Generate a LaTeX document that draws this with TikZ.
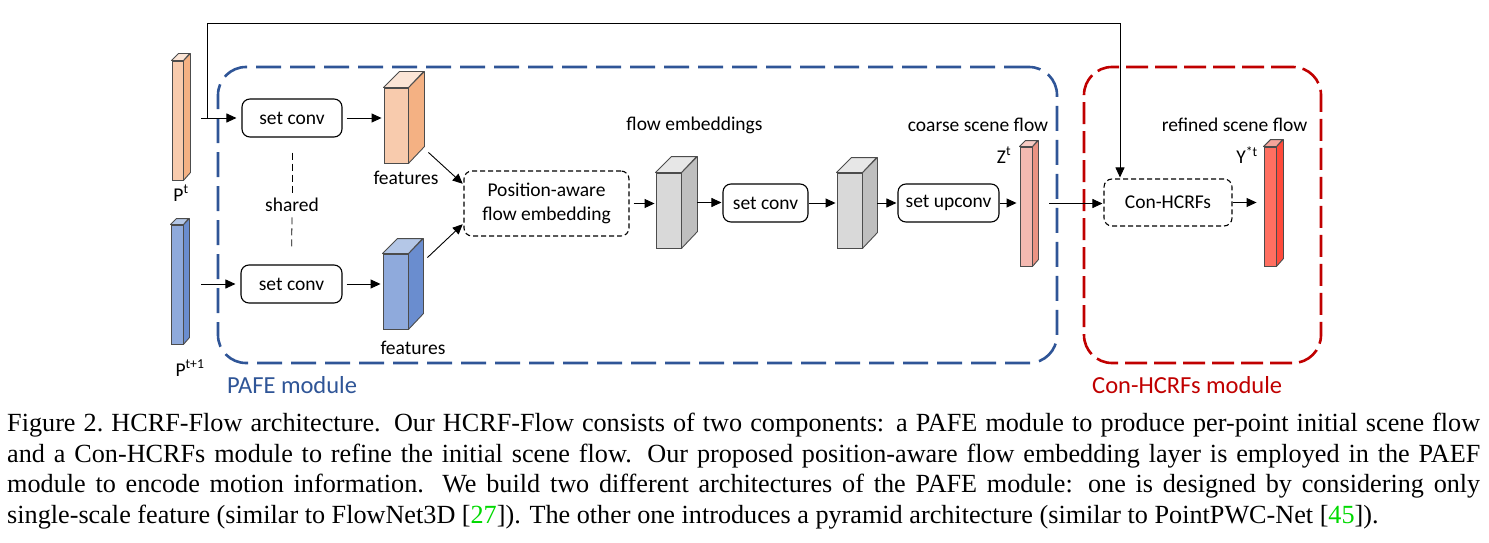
\documentclass[tikz,border=0pt]{standalone}
\usepackage{fontspec}
\setmainfont{Liberation Serif}
\newfontfamily\diafont{Carlito}
\usetikzlibrary{arrows.meta,positioning}

\definecolor{orangefront}{HTML}{F8CBAD}
\definecolor{orangeside}{HTML}{F4B183}
\definecolor{orangetop}{HTML}{FBE5D6}
\definecolor{bluefront}{HTML}{8FAADC}
\definecolor{blueside}{HTML}{6A8DCF}
\definecolor{bluetop}{HTML}{B4C7E7}
\definecolor{grayfront}{HTML}{D9D9D9}
\definecolor{grayside}{HTML}{BFBFBF}
\definecolor{graytop}{HTML}{E7E7E7}
\definecolor{salmonfront}{HTML}{F4B9B1}
\definecolor{salmonside}{HTML}{EB9383}
\definecolor{salmontop}{HTML}{F7CBC4}
\definecolor{redfront}{HTML}{FF6F61}
\definecolor{redside}{HTML}{FF4A3A}
\definecolor{redtop}{HTML}{F5A49A}
\definecolor{pafeblue}{HTML}{2F5597}
\definecolor{crfred}{HTML}{C00000}
\definecolor{citegreen}{rgb}{0,0.85,0}

\tikzset{
	arrow/.style={-{Triangle[length=10pt,width=9pt]}, line width=0.9pt, shorten >=1pt},
	opbox/.style={draw, line width=1.1pt, rounded corners=8pt, minimum height=38pt, inner sep=0pt},
	dashbox/.style={opbox, dash pattern=on 5pt off 3pt},
	modframe/.style={line width=2.6pt, rounded corners=28pt, minimum height=296pt, inner sep=0pt},
	cubeface/.style={draw=black!70, line width=0.9pt, inner sep=0pt},
	cubeline/.style={draw=black!70, line width=0.9pt, line join=round},
	modtext/.style={anchor=base west, font=\diafont\fontsize{24.5}{29}\selectfont}
}

% #1 name, #2 centre, #3 width, #4 height, #5 depth, #6 colour set
\newcommand{\cuboid}[6]{%
	\node[cubeface, fill=#6front, minimum width=#3pt, minimum height=#4pt] (#1) at (#2) {};
	\draw[cubeline, fill=#6side] (#1.north east) -- ++(#5,-#5) -- ++(0,#4) -- (#1.south east) -- cycle;
	\draw[cubeline, fill=#6top] (#1.north west) -- ++(#5,-#5) -- ++(#3,0) -- (#1.north east) -- cycle;
	\coordinate (#1-r) at ([shift={(#5pt,#5pt/2)}]#1.east);
}

\begin{document}
\begin{tikzpicture}[x=1pt, y=-1pt, font=\diafont\fontsize{19.5}{23.5}\selectfont]
	\useasboundingbox (0,0) rectangle (1489,543);

	% module frames
	\node[modframe, draw=pafeblue, dash pattern=on 25pt off 9pt, minimum width=839pt] (pafemod) at (637.5,215) {};
	\node[modframe, draw=crfred, dash pattern=on 22pt off 7pt, minimum width=237pt] (crfmod) at (1202.5,215) {};
	\node[modtext, text=pafeblue] (pafelbl) at ([xshift=7pt,yshift=-29pt]pafemod.south west) {PAFE module};
	\node[modtext, text=crfred] (crflbl) at ([xshift=6pt,yshift=-29pt]crfmod.south west) {Con-HCRFs module};

	% point clouds and feature maps
	\cuboid{pt}{177.5,120.5}{11}{119}{7}{orange}
	\cuboid{ptn}{177,284.5}{12}{119}{6}{blue}
	\cuboid{fa}{396,125.5}{24}{75}{16}{orange}
	\cuboid{fb}{395.5,291.5}{25}{75}{15}{blue}
	\cuboid{ga}{668.5,210.5}{25}{75}{16}{gray}
	\cuboid{gb}{849.5,210.5}{25}{75}{15}{gray}
	\cuboid{zt}{1026,206.5}{12}{119}{6}{salmon}
	\cuboid{yt}{1270,206.5}{12}{119}{7}{red}

	% layers
	\node[opbox, minimum width=100pt] (sca) at (292,118) {set conv};
	\node[opbox, minimum width=101pt] (scb) at (291.5,284) {set conv};
	\node[opbox, minimum width=85pt] (scm) at (765.5,203) {set conv};
	\node[opbox, minimum width=101pt] (up) at (948.5,203) {set upconv};
	\node[dashbox, minimum width=165pt, minimum height=65pt, align=center] (pafe) at (546.5,203.5) {Position-aware\\flow embedding};
	\node[dashbox, minimum width=128pt, minimum height=47pt] (crf) at (1168,202.5) {Con-HCRFs};

	% labels
	\node (ptlbl) at (181,193) {P\textsuperscript{t}};
	\node (ptnlbl) at (190,368) {P\textsuperscript{t+1}};
	\node (falbl) at (406,178) {features};
	\node (fblbl) at (413,348) {features};
	\node (shared) at (292,205) {shared};
	\node (galbl) at (694.5,125) {flow embeddings};
	\node (ztlbl) at (978,125) {coarse scene flow};
	\node (ytlbl) at (1234.5,125) {refined scene flow};
	\node (zsym) at (1004,155) {Z\textsuperscript{t}};
	\node (ysym) at (1247,155) {Y\textsuperscript{*t}};

	% connectors
	\draw[arrow, shorten >=5pt] ([xshift=11pt]pt-r |- sca.west) -- (sca.west);
	\draw[arrow, shorten >=5pt] ([xshift=12pt]ptn-r |- scb.west) -- (scb.west);
	\draw[arrow] ([xshift=17pt]pt-r |- sca.west) -- ++(0,-95) -| ([xshift=-48pt]crf.north);
	\draw[arrow, shorten <=4pt, shorten >=2pt] (sca.east) -- (sca.east -| fa.west);
	\draw[arrow, shorten <=4pt, shorten >=2pt] (scb.east) -- (scb.east -| fb.west);
	\draw[dash pattern=on 7pt off 4pt, line width=0.8pt, shorten <=15pt, shorten >=2pt] (sca.south) -- (shared.north);
	\draw[dash pattern=on 7pt off 4pt, line width=0.8pt, shorten <=2pt, shorten >=18pt] (shared.south) -- (scb.north);
	\draw[arrow] ([xshift=20pt,yshift=11pt]fa.south east) -- ([yshift=-14pt]pafe.north west);
	\draw[arrow] ([xshift=19pt,yshift=-4pt]fb.north east) -- ([yshift=13pt]pafe.south west);
	\draw[arrow, shorten <=4pt] (pafe.east) -- (pafe.east -| ga.west);
	\draw[arrow] (ga-r) -- (ga-r -| scm.west);
	\draw[arrow] (scm.east) -- (scm.east -| gb.west);
	\draw[arrow] (gb-r) -- (gb-r -| up.west);
	\draw[arrow, shorten >=3pt] (up.east) -- (up.east -| zt.west);
	\draw[arrow] ([xshift=11pt]zt-r) -- (zt-r -| crf.west);
	\draw[arrow, shorten >=7pt] (crf.east) -- (crf.east -| yt.west);

	% caption
	\node[anchor=north west, inner sep=0pt, align=left, font=\rmfamily\fontsize{26.2}{30.5}\selectfont] (caption) at (7,413) {%
		\makebox[1473pt][s]{Figure 2.\ HCRF-Flow architecture. Our HCRF-Flow consists of two components: a PAFE module to produce per-point initial scene flow}\\
		\makebox[1473pt][s]{and a Con-HCRFs module to refine the initial scene flow. Our proposed position-aware flow embedding layer is employed in the PAEF}\\
		\makebox[1473pt][s]{module to encode motion information. We build two different architectures of the PAFE module: one is designed by considering only}\\
		single-scale feature (similar to FlowNet3D [\textcolor{citegreen}{27}]). The other one introduces a pyramid architecture (similar to PointPWC-Net [\textcolor{citegreen}{45}]).};
\end{tikzpicture}
\end{document}
